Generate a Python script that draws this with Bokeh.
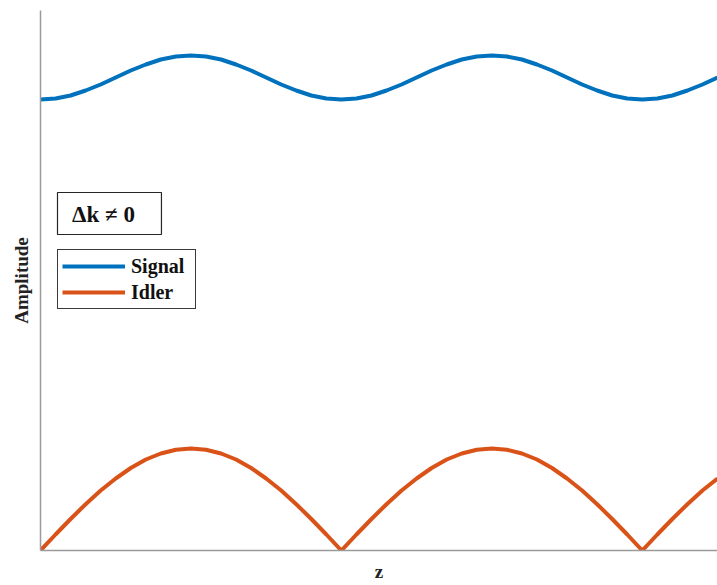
from bokeh.plotting import figure
from bokeh.models import Range1d, Legend, LegendItem, Label, BoxAnnotation, FixedTicker
from bokeh.embed import file_html
from bokeh.resources import INLINE

# z positions (arbitrary units, period 2)
z = [0.0, 0.1, 0.2, 0.3, 0.4, 0.5, 0.6, 0.7, 0.8, 0.9,
     1.0, 1.1, 1.2, 1.3, 1.4, 1.5, 1.6, 1.7, 1.8, 1.9,
     2.0, 2.1, 2.2, 2.3, 2.4, 2.5, 2.6, 2.7, 2.8, 2.9,
     3.0, 3.1, 3.2, 3.3, 3.4, 3.5, 3.6, 3.7, 3.8, 3.9,
     4.0, 4.1, 4.2, 4.3, 4.4, 4.5]

signal = [4.51, 4.52, 4.55, 4.60, 4.66, 4.73, 4.80, 4.86, 4.91, 4.94,
          4.95, 4.94, 4.91, 4.86, 4.80, 4.73, 4.66, 4.60, 4.55, 4.52,
          4.51, 4.52, 4.55, 4.60, 4.66, 4.73, 4.80, 4.86, 4.91, 4.94,
          4.95, 4.94, 4.91, 4.86, 4.80, 4.73, 4.66, 4.60, 4.55, 4.52,
          4.51, 4.52, 4.55, 4.60, 4.66, 4.73]

idler = [0.0, 0.16, 0.315, 0.463, 0.60, 0.72, 0.825, 0.91, 0.97, 1.008,
         1.02, 1.008, 0.97, 0.91, 0.825, 0.72, 0.60, 0.463, 0.315, 0.16,
         0.0, 0.16, 0.315, 0.463, 0.60, 0.72, 0.825, 0.91, 0.97, 1.008,
         1.02, 1.008, 0.97, 0.91, 0.825, 0.72, 0.60, 0.463, 0.315, 0.16,
         0.0, 0.16, 0.315, 0.463, 0.60, 0.72]

series_names = ["Signal", "Idler"]
annotation_text = "\u0394k \u2260 0"

FONT = "Liberation Serif"
AXIS_COLOR = "#9a9a9a"

p = figure(width=717, height=585, output_backend="svg", toolbar_location=None,
           x_range=Range1d(0, 4.5), y_range=Range1d(0, 5.4),
           min_border_left=40, min_border_right=0, min_border_top=10,
           min_border_bottom=35)
p.outline_line_color = None
p.xgrid.visible = False
p.ygrid.visible = False
p.background_fill_color = "white"
p.border_fill_color = "white"

for ax in (p.xaxis[0], p.yaxis[0]):
    ax.ticker = FixedTicker(ticks=[], minor_ticks=[])
    ax.major_tick_line_color = None
    ax.minor_tick_line_color = None
    ax.major_label_standoff = 0
    ax.axis_line_color = AXIS_COLOR
    ax.axis_line_width = 1.5
    ax.axis_label_text_font = FONT
    ax.axis_label_text_font_style = "bold"
    ax.axis_label_text_font_size = "19px"
    ax.axis_label_text_color = "#222222"

p.xaxis.axis_label = "z"
p.xaxis.axis_label_standoff = 10
p.yaxis.axis_label = "Amplitude"
p.yaxis.axis_label_standoff = 9

r_sig = p.line(z, signal, line_color="#0072BD", line_width=4)
r_idl = p.line(z, idler, line_color="#D95319", line_width=4)

box = BoxAnnotation(left=0.113, right=0.804, bottom=3.16, top=3.58,
                    fill_color="white", fill_alpha=1.0,
                    line_color="#262626", line_alpha=1.0, line_width=1.2)
p.add_layout(box)
lbl = Label(x=0.21, y=3.365, text=annotation_text, text_font=FONT,
            text_font_style="bold", text_font_size="23px",
            text_baseline="middle", text_color="#111111")
p.add_layout(lbl)

legend = Legend(items=[LegendItem(label=series_names[0], renderers=[r_sig]),
                       LegendItem(label=series_names[1], renderers=[r_idl])],
                location=(17, 241), orientation="vertical",
                label_text_font=FONT, label_text_font_style="bold",
                label_text_font_size="20px", label_text_color="#111111",
                glyph_width=63, glyph_height=24, label_height=24,
                label_width=60, label_standoff=6, spacing=2, padding=4,
                margin=0, border_line_color="#3a3a3a", border_line_alpha=1.0,
                border_line_width=1.2,
                background_fill_color="white", background_fill_alpha=1.0)
p.add_layout(legend, "center")

open("out.html", "w").write(file_html(p, INLINE))
